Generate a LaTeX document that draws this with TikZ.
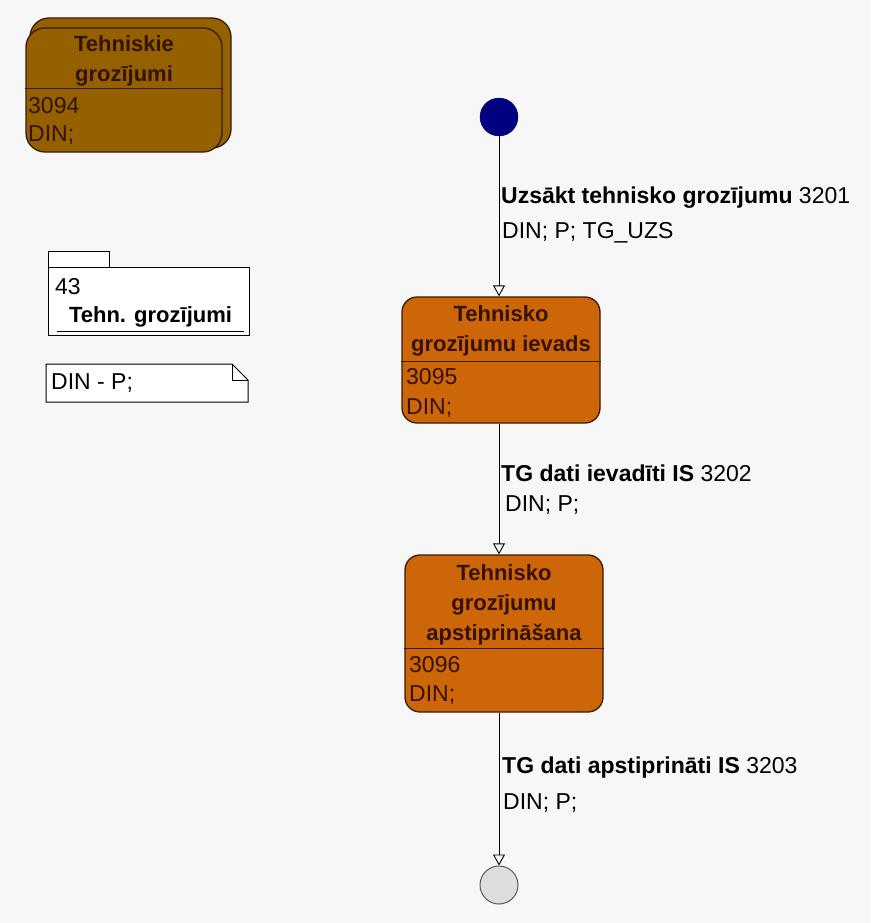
\documentclass[tikz,border=0pt]{standalone}
\usepackage{fontspec}
\setmainfont{Liberation Sans}
\usetikzlibrary{arrows.meta,positioning}
\definecolor{stateorange}{HTML}{CC6608}
\definecolor{superbrown}{HTML}{946000}
\definecolor{stateline}{HTML}{3A1A08}
\definecolor{statetext}{HTML}{351300}
\definecolor{initblue}{HTML}{000080}
\definecolor{finalgray}{HTML}{DDDDDD}
\definecolor{canvas}{HTML}{F7F7F7}
\begin{document}
\begin{tikzpicture}[x=1pt, y=-1pt,
    statebox/.style={draw=stateline, line width=1.3pt, fill=stateorange, rounded corners=15pt, inner sep=0pt},
    superbox/.style={statebox, fill=superbrown, rounded corners=19pt},
    statetitle/.style={font=\fontsize{22}{30}\selectfont\bfseries, text=statetext, align=center, inner sep=0pt},
    stateinfo/.style={font=\fontsize{23}{25}\selectfont, text=statetext, anchor=west, inner sep=0pt},
    divider/.style={draw=stateline, line width=1pt},
    trlabel/.style={font=\fontsize{23}{25}\selectfont, anchor=west, inner sep=0pt},
    flow/.style={draw=black, line width=0.9pt, -{Triangle[open, length=11pt, width=12pt]}},
    initstate/.style={circle, fill=initblue, draw=initblue!70!black, minimum size=38pt, inner sep=0pt},
    finalstate/.style={circle, fill=finalgray, draw=black!65, line width=1pt, minimum size=38pt, inner sep=0pt},
    paper/.style={draw=black, line width=1pt, fill=white}
  ]
  % canvas
  \fill[canvas] (0,0) rectangle (870,923);

  % superstate top left
  \node[superbox, minimum width=201pt, minimum height=130pt] (superback) at (130.5,83) {};
  \node[superbox, minimum width=196pt, minimum height=124pt] (superstate) at (124,90) {};
  \draw[divider] ([yshift=-61pt]superstate.north west) -- ([yshift=-61pt]superstate.north east);
  \node[statetitle] (supername) at (124,61) {Tehniskie\\grozījumi};
  \node[stateinfo] (superid) at (28,106) {3094};
  \node[stateinfo] (superrole) at (28,135) {DIN;};

  % package
  \draw[paper] (48,251) rectangle (109,267);
  \draw[paper] (48,267) rectangle (249,335);
  \node[stateinfo, text=black] (pkgid) at (55,287) {43};
  \node[font=\fontsize{22}{25}\selectfont\bfseries, inner sep=0pt, minimum width=187pt] (pkgname) at (150.5,317) {Tehn. grozījumi};
  \draw[line width=1pt] (57,331) -- (244,331);

  % note
  \draw[paper] (46,364) -- (232,364) -- (248,380) -- (248,402) -- (46,402) -- cycle;
  \draw[line width=1pt] (232,364) -- (232,380) -- (248,380);
  \node[trlabel] (notetext) at (51,383) {DIN - P;};

  % states
  \node[initstate] (start) at (499,117) {};

  \node[statebox, minimum width=198pt, minimum height=126pt] (ievads) at (501,360) {};
  \draw[divider] ([yshift=-65pt]ievads.north west) -- ([yshift=-65pt]ievads.north east);
  \node[statetitle] (ievadsname) at (501,331) {Tehnisko\\grozījumu ievads};
  \node[stateinfo] (ievadsid) at (406,377) {3095};
  \node[stateinfo] (ievadsrole) at (406,408) {DIN;};

  \node[statebox, minimum width=198pt, minimum height=157pt] (apstipr) at (504,633.5) {};
  \draw[divider] ([yshift=-94pt]apstipr.north west) -- ([yshift=-94pt]apstipr.north east);
  \node[statetitle] (apstiprname) at (504,605) {Tehnisko\\grozījumu\\apstiprināšana};
  \node[stateinfo] (apstiprid) at (409,665) {3096};
  \node[stateinfo] (apstiprrole) at (409,695) {DIN;};

  \node[finalstate] (finish) at (499,885) {};

  % transitions
  \draw[flow] (start) -- (start |- ievads.north);
  \draw[flow] (start |- ievads.south) -- (start |- apstipr.north);
  \draw[flow] (start |- apstipr.south) -- (finish);

  \node[trlabel] (uzsakt) at (501,198) {\textbf{Uzsākt tehnisko grozījumu} 3201};
  \node[trlabel] (uzsaktrole) at (502,233) {DIN; P; TG\_UZS};
  \node[trlabel] (ievadits) at (501,473) {\textbf{TG dati ievadīti IS} 3202};
  \node[trlabel] (ievaditsrole) at (505,505) {DIN; P;};
  \node[trlabel] (apstiprinati) at (502,768) {\textbf{TG dati apstiprināti IS} 3203};
  \node[trlabel] (apstiprinatirole) at (503,803) {DIN; P;};
\end{tikzpicture}
\end{document}
